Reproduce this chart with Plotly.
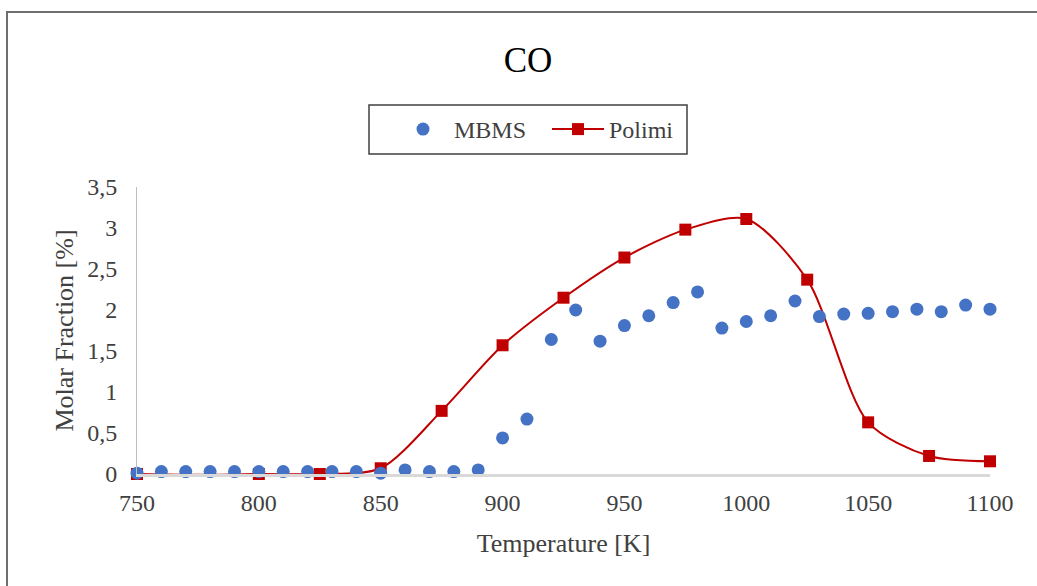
import plotly.graph_objects as go

mbms_T = [750, 760, 770, 780, 790, 800, 810, 820, 830, 840, 850, 860, 870, 880, 890,
          900, 910, 920, 930, 940, 950, 960, 970, 980, 990, 1000, 1010, 1020, 1030,
          1040, 1050, 1060, 1070, 1080, 1090, 1100]
mbms_y = [0.01, 0.03, 0.03, 0.03, 0.03, 0.03, 0.03, 0.03, 0.03, 0.03, 0.01, 0.05, 0.03, 0.03, 0.05,
          0.44, 0.67, 1.64, 2.00, 1.62, 1.81, 1.93, 2.09, 2.22, 1.78, 1.86, 1.93, 2.11, 1.92,
          1.95, 1.96, 1.98, 2.01, 1.98, 2.06, 2.01]

polimi_T = [750, 775, 800, 825, 850, 875, 900, 925, 950, 975, 1000, 1025, 1050, 1075, 1100]
polimi_y = [0.0, -0.01, 0.0, 0.0, 0.07, 0.77, 1.57, 2.15, 2.64, 2.98, 3.11, 2.37, 0.63, 0.22, 0.155]

x_ticks = [750, 800, 850, 900, 950, 1000, 1050, 1100]
y_ticks = [0, 0.5, 1, 1.5, 2, 2.5, 3, 3.5]
y_ticktext = ["0", "0,5", "1", "1,5", "2", "2,5", "3", "3,5"]

FONT = "Liberation Serif, Times New Roman, serif"

fig = go.Figure()
fig.add_trace(go.Scatter(
    x=polimi_T, y=polimi_y, mode="lines+markers", name="Polimi", legendrank=2,
    line=dict(color="#C00000", width=2, shape="spline", smoothing=0.8),
    marker=dict(color="#C00000", size=12, symbol="square"),
    cliponaxis=False,
))
fig.add_trace(go.Scatter(
    x=mbms_T, y=mbms_y, mode="markers", name="MBMS", legendrank=1,
    marker=dict(color="#4472C4", size=13, symbol="circle"),
    cliponaxis=False,
))

L, R, T, B = 137, 47, 187, 112
W, H = 1037, 586
pw, ph = W - L - R, H - T - B

def px(xp):
    return (xp - L) / pw

def py(yp):
    return (H - B - yp) / ph

fig.update_layout(
    width=W, height=H,
    margin=dict(l=L, r=R, t=T, b=B),
    paper_bgcolor="white", plot_bgcolor="white",
    font=dict(family=FONT, color="#404040", size=24),
    title=dict(text="CO", x=528 / W, xanchor="center", xref="container",
               y=1 - 60 / H, yanchor="middle", yref="container",
               font=dict(family=FONT, size=35, color="#000000")),
    showlegend=True,
    legend=dict(orientation="h", x=px(392), xanchor="left", y=py(129.5), yanchor="middle",
                borderwidth=0, bgcolor="rgba(0,0,0,0)",
                font=dict(family=FONT, size=24, color="#404040"),
                itemwidth=52, entrywidth=88, tracegroupgap=0),
    xaxis=dict(range=[750, 1100], tickvals=x_ticks, ticktext=[str(v) for v in x_ticks],
               showgrid=False, zeroline=False, showline=True, linecolor="#d9d9d9", linewidth=3,
               ticks="", ticklabelstandoff=5, tickfont=dict(family=FONT, size=24, color="#404040"),
               title=dict(text="Temperature [K]", standoff=20,
                          font=dict(family=FONT, size=26, color="#404040"))),
    yaxis=dict(range=[0, 3.5], tickvals=y_ticks, ticktext=y_ticktext,
               showgrid=False, zeroline=False, showline=True, linecolor="#bfbfbf", linewidth=1,
               ticks="", ticklabelstandoff=14, tickfont=dict(family=FONT, size=24, color="#404040"),
               title=dict(text="Molar Fraction [%]", standoff=6,
                          font=dict(family=FONT, size=26, color="#404040"))),
    shapes=[
        dict(type="path", xref="paper", yref="paper",
             path=f"M {px(7)} {py(600)} L {px(7)} {py(12)} L {px(1040)} {py(12)}",
             line=dict(color="#6f6f6f", width=2)),
        dict(type="rect", xref="paper", yref="paper",
             x0=px(369), x1=px(687), y0=py(154), y1=py(105),
             line=dict(color="#404040", width=1.5), fillcolor="rgba(0,0,0,0)", layer="below"),
    ],
)

fig.write_html("out.html", config={"displayModeBar": False},
               post_script="document.body.style.margin='0';")
